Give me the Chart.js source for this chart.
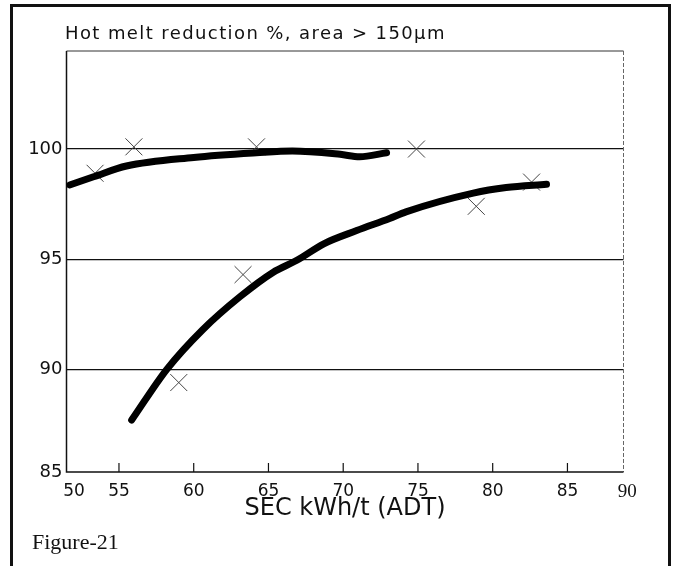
<!DOCTYPE html>
<html lang="en">
<head>
    <meta charset="UTF-8">
    <title>Figure-21 Hot melt reduction</title>
    <script src="https://cdn.jsdelivr.net/npm/chart.js"></script>
    <style>
        html, body {
            margin: 0;
            padding: 0;
            background: #fff;
            width: 673px;
            height: 566px;
            overflow: hidden;
        }
        .frame {
            position: absolute;
            left: 10px;
            top: 4px;
            width: 655px;
            height: 580px;
            border: 3px solid #111;
            border-bottom: none;
        }
        #chart {
            position: absolute;
            left: 0;
            top: 0;
        }
        .chart-title {
            position: absolute;
            left: 65px;
            top: 24px;
            font-family: 'DejaVu Sans', sans-serif;
            font-size: 18px;
            letter-spacing: 1.4px;
            line-height: 1;
            color: #111;
            white-space: nowrap;
        }
        .caption {
            position: absolute;
            left: 32px;
            top: 531px;
            font-family: 'Liberation Serif', serif;
            font-size: 22px;
            line-height: 1;
            color: #111;
        }
    </style>
</head>
<body>
    <div class="frame"></div>
    <canvas id="chart" width="673" height="566"></canvas>
    <div class="chart-title">Hot melt reduction %, area &gt; 150&micro;m</div>
    <div class="caption">Figure-21</div>

    <script>
        // axis: tick values and the labels printed at them
        const xMin = 51.49, xMax = 88.75;
        const xTickValues = [52, 55, 60, 65, 70, 75, 80, 85, 89];
        const xTickLabels = ['50', '55', '60', '65', '70', '75', '80', '85', '90'];
        const yMin = 85.34, yMax = 104.45;
        const yTickValues = [85.34, 90, 95, 100];
        const yTickLabels = ['85', '90', '95', '100'];

        // measured points (x marks)
        const pointsX = [53.4, 56.0, 64.2, 74.9, 82.6, 78.9, 63.3, 59.0];
        const pointsY = [98.9, 100.1, 100.1, 100.0, 98.5, 97.4, 94.3, 89.4];

        // upper fitted curve
        const upperX = [51.7, 53.3, 55.5, 60.0, 64.2, 66.6, 69.8, 71.1, 72.9];
        const upperY = [98.37, 98.74, 99.23, 99.62, 99.83, 99.91, 99.76, 99.65, 99.83];

        // lower fitted curve
        const lowerX = [55.85, 58.2, 60.6, 63.1, 65.3, 66.9, 68.7, 70.9, 73.1, 74.2, 78.7, 80.9, 83.6];
        const lowerY = [87.7, 90.0, 91.8, 93.3, 94.4, 94.95, 95.7, 96.3, 96.85, 97.15, 98.0, 98.25, 98.4];

        const toXY = (xs, ys) => xs.map((x, i) => ({ x: x, y: ys[i] }));

        const curveStyle = {
            showLine: true,
            borderColor: '#000',
            borderWidth: 7,
            borderCapStyle: 'round',
            borderJoinStyle: 'round',
            pointRadius: 0,
            cubicInterpolationMode: 'monotone'
        };

        // plot box and the small inner tick marks on the x axis
        const framePlugin = {
            id: 'frame',
            beforeDatasetsDraw(chart) {
                const { ctx, chartArea: a, scales } = chart;
                ctx.save();
                ctx.strokeStyle = '#333';
                ctx.lineWidth = 1;
                ctx.beginPath();
                ctx.moveTo(a.left, a.top);
                ctx.lineTo(a.right, a.top);
                ctx.stroke();
                ctx.strokeStyle = '#666';
                ctx.setLineDash([4, 2]);
                ctx.beginPath();
                ctx.moveTo(a.right, a.top);
                ctx.lineTo(a.right, a.bottom);
                ctx.stroke();
                ctx.setLineDash([]);
                ctx.strokeStyle = '#111';
                ctx.lineWidth = 1.5;
                ctx.beginPath();
                ctx.moveTo(a.left, a.top);
                ctx.lineTo(a.left, a.bottom);
                ctx.lineTo(a.right, a.bottom);
                ctx.stroke();
                ctx.lineWidth = 1.2;
                for (let i = 1; i < xTickValues.length - 1; i++) {
                    const px = scales.x.getPixelForValue(xTickValues[i]);
                    ctx.beginPath();
                    ctx.moveTo(px, a.bottom);
                    ctx.lineTo(px, a.bottom - 9);
                    ctx.stroke();
                }
                ctx.restore();
            }
        };

        new Chart(document.getElementById('chart'), {
            type: 'scatter',
            data: {
                datasets: [
                    Object.assign({ data: toXY(upperX, upperY) }, curveStyle),
                    Object.assign({ data: toXY(lowerX, lowerY) }, curveStyle),
                    {
                        data: toXY(pointsX, pointsY),
                        pointStyle: 'crossRot',
                        pointRadius: 12,
                        borderColor: '#444',
                        borderWidth: 1,
                        backgroundColor: 'rgba(0,0,0,0)'
                    }
                ]
            },
            options: {
                responsive: false,
                devicePixelRatio: 1,
                animation: false,
                layout: {
                    padding: { left: 0, top: 51, right: 49.5, bottom: 0 }
                },
                plugins: {
                    legend: { display: false },
                    tooltip: { enabled: false }
                },
                scales: {
                    x: {
                        type: 'linear',
                        min: xMin,
                        max: xMax,
                        afterBuildTicks: scale => {
                            scale.ticks = xTickValues.map(v => ({ value: v }));
                        },
                        afterFit: scale => { scale.height = 94; },
                        grid: { display: false, drawTicks: false },
                        border: { display: false },
                        ticks: {
                            autoSkip: false,
                            maxRotation: 0,
                            padding: 9,
                            color: '#111',
                            font: ctx => ctx.index === xTickLabels.length - 1
                                ? { family: 'Liberation Serif', size: 19 }
                                : { family: 'DejaVu Sans', size: 17 },
                            callback: (value, index) => xTickLabels[index]
                        },
                        title: {
                            display: true,
                            text: 'SEC kWh/t (ADT)',
                            color: '#111',
                            font: { family: 'DejaVu Sans', size: 24 },
                            padding: { top: 0, bottom: 42.5 }
                        }
                    },
                    y: {
                        type: 'linear',
                        min: yMin,
                        max: yMax,
                        afterBuildTicks: scale => {
                            scale.ticks = yTickValues.map(v => ({ value: v }));
                        },
                        afterFit: scale => { scale.width = 66.5; },
                        grid: {
                            drawTicks: false,
                            color: ctx => ctx.index === 0 ? 'rgba(0,0,0,0)' : '#111',
                            lineWidth: 1.2
                        },
                        border: { display: false },
                        ticks: {
                            padding: 4,
                            color: '#111',
                            font: { family: 'DejaVu Sans', size: 18 },
                            callback: (value, index) => yTickLabels[index]
                        }
                    }
                }
            },
            plugins: [framePlugin]
        });
    </script>
</body>
</html>
